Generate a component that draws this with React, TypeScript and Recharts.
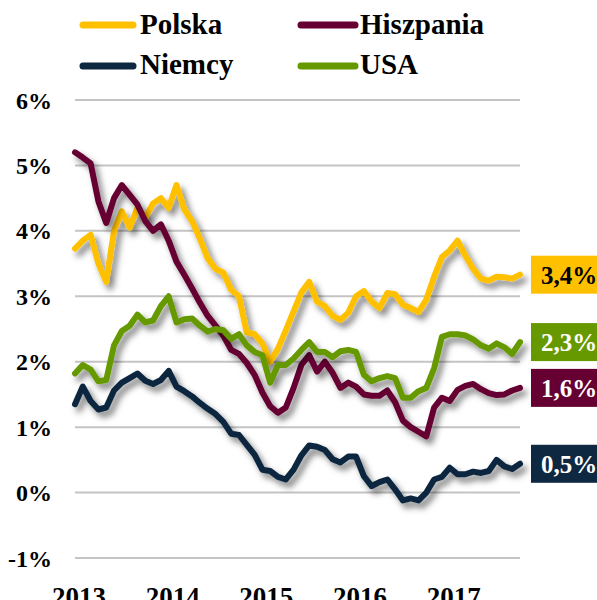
import React from 'react';
import { LineChart, Line, XAxis, YAxis, CartesianGrid } from 'recharts';

// ---- data ----
const years = ['2013', '2014', '2015', '2016', '2017'];
const monthCount = 58; // Jan 2013 .. Oct 2017
const months: string[] = [];
for (let i = 0; i < monthCount; i++) {
  const y = 2013 + Math.floor(i / 12);
  const m = (i % 12) + 1;
  months.push(`${y}-${String(m).padStart(2, '0')}`);
}
const yearTicks = years.map((y) => `${y}-01`);
const yTicks = [-1, 0, 1, 2, 3, 4, 5, 6];

const seriesNames = ['Polska', 'Hiszpania', 'Niemcy', 'USA'];

const polska = [
  3.73, 3.85, 3.94, 3.5, 3.22, 4.0, 4.3, 4.05, 4.35, 4.2,
  4.42, 4.5, 4.35, 4.7, 4.33, 4.15, 3.88, 3.58, 3.42, 3.36,
  3.1, 3.0, 2.45, 2.42, 2.28, 2.0, 2.2, 2.48, 2.77, 3.06,
  3.22, 2.92, 2.85, 2.7, 2.64, 2.75, 3.0, 3.08, 2.92, 2.82,
  3.05, 3.03, 2.87, 2.82, 2.76, 2.95, 3.3, 3.6, 3.7, 3.85,
  3.62, 3.42, 3.27, 3.24, 3.3, 3.29, 3.27, 3.33,
];
const hiszpania = [
  5.2, 5.12, 5.03, 4.45, 4.12, 4.5, 4.7, 4.55, 4.4, 4.15,
  4.0, 4.1, 3.85, 3.53, 3.33, 3.12, 2.9, 2.7, 2.55, 2.4,
  2.18, 2.12, 1.98, 1.8, 1.53, 1.32, 1.22, 1.3, 1.6, 1.95,
  2.1, 1.85, 2.0, 1.83, 1.6, 1.68, 1.62, 1.5, 1.48, 1.48,
  1.56, 1.38, 1.1, 1.0, 0.93, 0.86, 1.3, 1.45, 1.4, 1.57,
  1.63, 1.66, 1.58, 1.52, 1.49, 1.5, 1.56, 1.6,
];
const niemcy = [
  1.35, 1.62, 1.4, 1.27, 1.3, 1.56, 1.68, 1.75, 1.82, 1.71,
  1.66, 1.72, 1.86, 1.62, 1.55, 1.47, 1.37, 1.28, 1.2, 1.08,
  0.9, 0.88, 0.73, 0.58, 0.35, 0.33, 0.24, 0.2, 0.35, 0.57,
  0.72, 0.7, 0.65, 0.51, 0.46, 0.55, 0.55, 0.25, 0.1, 0.16,
  0.2, 0.05, -0.12, -0.09, -0.12, 0.0, 0.2, 0.24, 0.38, 0.28,
  0.28, 0.32, 0.3, 0.33, 0.5, 0.4, 0.36, 0.44,
];
const usa = [
  1.82, 1.95, 1.88, 1.7, 1.72, 2.25, 2.47, 2.55, 2.72, 2.6,
  2.63, 2.85, 3.0, 2.6, 2.65, 2.66, 2.55, 2.46, 2.5, 2.48,
  2.35, 2.42, 2.25, 2.15, 2.1, 1.68, 1.95, 1.95, 2.05, 2.18,
  2.3, 2.15, 2.15, 2.07, 2.16, 2.18, 2.15, 1.8, 1.7, 1.75,
  1.78, 1.75, 1.45, 1.45, 1.55, 1.6, 1.9, 2.38, 2.42, 2.42,
  2.4, 2.34, 2.25, 2.2, 2.28, 2.22, 2.12, 2.3,
];
const endLabels = ['3,4%', '1,6%', '0,5%', '2,3%'];

const seriesValues = [polska, hiszpania, niemcy, usa];

const data = months.map((m, i) => {
  const row: Record<string, number | string> = { month: m };
  seriesNames.forEach((n, k) => {
    row[n] = seriesValues[k][i];
  });
  return row;
});

// ---- styles ----
const FONT = "'Liberation Serif', 'DejaVu Serif', serif";
const colors = ['#FFC000', '#660033', '#0E2841', '#669900'];
const labelText = ['#000000', '#FFFFFF', '#FFFFFF', '#FFFFFF'];
// legend layout: [lineX1, lineX2, lineY, textX, textBaseline]
const legendPos = [
  [83, 133, 25, 140, 34],
  [301, 355, 25, 360, 34],
  [83, 133, 66, 140, 74],
  [301, 355, 66, 360, 74],
];

const makeEndLabel = (k: number) => (props: any) => {
  const { x, y, index } = props;
  if (index !== monthCount - 1 || x == null || y == null) return null;
  return (
    <g key={`end-${k}`}>
      <rect x={x + 11} y={y - 19} width={80} height={38} fill={colors[k]} />
      <text
        x={x + 21}
        y={y}
        dy="0.36em"
        fontFamily={FONT}
        fontWeight={700}
        fontSize={25}
        fill={labelText[k]}
      >
        {endLabels[k]}
      </text>
    </g>
  );
};

export default function App() {
  return (
    <div
      style={{
        position: 'absolute',
        left: 0,
        top: 0,
        width: 597,
        height: 600,
        overflow: 'hidden',
        background: '#fff',
      }}
    >
      <LineChart
        width={597}
        height={600}
        data={data}
        margin={{ top: 100, right: 77, bottom: 0, left: 0 }}
      >
        <defs>
          <filter id="lineShadow" x="-10%" y="-10%" width="130%" height="140%">
            <feDropShadow dx="4" dy="5" stdDeviation="3" floodColor="#000" floodOpacity="0.5" />
          </filter>
        </defs>
        <CartesianGrid vertical={false} stroke="#c4c4c4" strokeWidth={2} />
        <XAxis
          dataKey="month"
          ticks={yearTicks}
          interval={0}
          tickFormatter={(v: string) => v.slice(0, 4)}
          axisLine={false}
          tickLine={false}
          tickSize={0}
          tickMargin={29}
          height={42}
          dx={4}
          tick={{ fontFamily: FONT, fontWeight: 700, fontSize: 27, fill: '#000' }}
        />
        <YAxis
          domain={[-1, 6]}
          ticks={yTicks}
          interval={0}
          tickFormatter={(v: number) => `${v}%`}
          axisLine={false}
          tickLine={false}
          tickSize={0}
          tickMargin={23}
          width={75}
          tick={{ fontFamily: FONT, fontWeight: 700, fontSize: 24, fill: '#000' }}
        />
        {seriesNames.map((n, k) => (
          <Line
            key={n}
            dataKey={n}
            stroke={colors[k]}
            strokeWidth={6}
            strokeLinejoin="round"
            strokeLinecap="round"
            dot={false}
            activeDot={false}
            isAnimationActive={false}
            filter="url(#lineShadow)"
            label={makeEndLabel(k)}
          />
        ))}
      </LineChart>
      <svg
        width={597}
        height={90}
        style={{ position: 'absolute', left: 0, top: 0, pointerEvents: 'none' }}
      >
        {seriesNames.map((n, k) => {
          const [x1, x2, ly, tx, tb] = legendPos[k];
          return (
            <g key={n}>
              <line x1={x1} x2={x2} y1={ly} y2={ly} stroke={colors[k]} strokeWidth={7} strokeLinecap="round" />
              <text x={tx} y={tb} fontFamily={FONT} fontWeight={700} fontSize={29} fill="#000">
                {n}
              </text>
            </g>
          );
        })}
      </svg>
    </div>
  );
}
